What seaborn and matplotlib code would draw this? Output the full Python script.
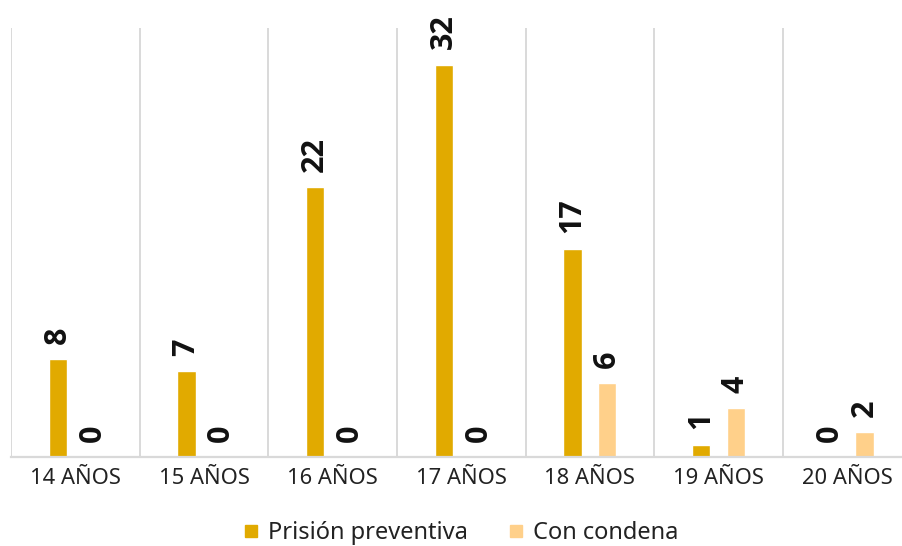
import matplotlib
matplotlib.use("Agg")
import matplotlib.pyplot as plt
from matplotlib.lines import Line2D
import seaborn as sns
import pandas as pd

categorias = ["14 AÑOS", "15 AÑOS", "16 AÑOS", "17 AÑOS", "18 AÑOS", "19 AÑOS", "20 AÑOS"]
prision_preventiva = [8, 7, 22, 32, 17, 1, 0]
con_condena = [0, 0, 0, 0, 6, 4, 2]
series = ["Prisión preventiva", "Con condena"]
colores = ["#E1AA00", "#FFD08A"]

sns.set_theme(style="white")
plt.rcParams["font.family"] = ["Noto Sans", "DejaVu Sans"]

df = pd.DataFrame({
    "edad": categorias * 2,
    "valor": prision_preventiva + con_condena,
    "tipo": [series[0]] * len(categorias) + [series[1]] * len(categorias),
})

fig = plt.figure(figsize=(9.03, 5.46), dpi=100)
ax = fig.add_axes([11 / 903, 89 / 546, 900.5 / 903, 429 / 546])

sns.barplot(data=df, x="edad", y="valor", hue="tipo", hue_order=series,
            palette=colores, width=0.54, gap=0.47, ax=ax, legend=False,
            saturation=1, errorbar=None)

for cont in ax.containers:
    ax.bar_label(cont, fmt="%d", rotation=90, padding=11,
                 fontsize=22, fontweight="bold", color="#111111",
                 family=["Open Sans", "Roboto", "DejaVu Sans"])

ax.set_ylim(0, 35)
ax.set_xlim(-0.5, len(categorias) - 0.5)
ax.set_xlabel("")
ax.set_ylabel("")
ax.set_yticks([])
ax.set_xticks(range(len(categorias)))
ax.set_xticklabels(categorias, fontsize=15.8, color="#222222")
ax.tick_params(axis="x", length=0, pad=8)
ax.set_xticks([i - 0.5 for i in range(len(categorias) + 1)], minor=True)
ax.tick_params(axis="x", which="minor", length=0)
ax.grid(axis="x", which="minor", color="#D9D9D9", lw=1.4)
ax.grid(axis="x", which="major", visible=False)
ax.grid(axis="y", visible=False)
ax.set_axisbelow(True)
for s in ["top", "left", "right"]:
    ax.spines[s].set_visible(False)
ax.spines["bottom"].set_color("#D9D9D9")
ax.spines["bottom"].set_linewidth(1.6)

handles = [Line2D([], [], marker="s", ls="", color=c, markersize=8.2) for c in colores]
ax.legend(handles, series, loc="center", bbox_to_anchor=(0.5, -0.177),
          ncol=2, frameon=False, fontsize=17, handlelength=0.6,
          handletextpad=0.4, columnspacing=1.75, labelcolor="#222222")

fig.savefig("out.png", dpi=100)
